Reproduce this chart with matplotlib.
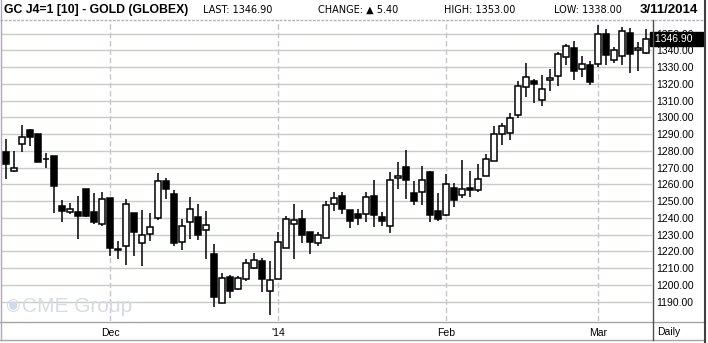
import numpy as np
import pandas as pd
import matplotlib
matplotlib.use("Agg")
import matplotlib.pyplot as plt
from matplotlib.lines import Line2D

# Daily gold futures (GC J4), 12 Nov 2013 - 11 Mar 2014
holidays = ["2013-11-28", "2013-12-25", "2014-01-01", "2014-01-20", "2014-02-17"]
dates = pd.bdate_range("2013-11-12", "2014-03-11", freq="C", holidays=holidays)

opens = [1279, 1268, 1284, 1292.5, 1290, 1275.3, 1277, 1247, 1243.3, 1243.5,
         1257.3, 1243.5, 1236.2, 1252, 1221.2, 1223, 1242.7, 1225, 1230.2, 1239.8,
         1262, 1254, 1225.6, 1237.4, 1240.4, 1232.6, 1218.5, 1189, 1204.6, 1197.5,
         1203.5, 1209.8, 1214.2, 1196.2, 1203.5, 1222, 1236.2, 1239.4, 1231.5, 1225,
         1227.7, 1248.1, 1252.9, 1244.6, 1242.2, 1242.2, 1252.9, 1240.4, 1235, 1263.6,
         1270.2, 1254.7, 1255.5, 1267.2, 1244.2, 1241.6, 1257.7, 1253.5, 1257.9, 1256.5,
         1265, 1273.8, 1289.8, 1290.4, 1301.6, 1318.1, 1321.7, 1310.4, 1322.2, 1324.6,
         1335.8, 1341.1, 1328.7, 1331.1, 1331.7, 1350, 1334.1, 1336.4, 1350.6, 1340,
         1338.6]
highs = [1287, 1280, 1295.5, 1293, 1290, 1278.5, 1277, 1250.7, 1248.7, 1253,
         1257.3, 1255, 1255.3, 1252, 1226.2, 1251.3, 1242.7, 1244.7, 1243, 1267,
         1263.6, 1256.7, 1239.4, 1252.3, 1248, 1244, 1224.5, 1207.2, 1205.6, 1205.5,
         1215.4, 1219, 1215.8, 1214.4, 1231.7, 1240.8, 1248.3, 1244.8, 1231.5, 1231.5,
         1250, 1255.7, 1255.7, 1244.6, 1245.2, 1255.7, 1262.6, 1243.4, 1267.2, 1273.1,
         1280.5, 1262, 1271, 1268, 1254.9, 1266.2, 1261, 1274.5, 1268.1, 1272.2,
         1278, 1294.7, 1296.7, 1302.8, 1321.7, 1332.5, 1323, 1325.4, 1329, 1339,
         1343.5, 1345.5, 1336.6, 1333.7, 1355, 1352.6, 1342, 1353.7, 1353.3, 1344.7,
         1353]
lows = [1263, 1267.5, 1279.5, 1283, 1273.5, 1270, 1243, 1237.8, 1242, 1227.6,
        1240.4, 1236.6, 1235.4, 1217.5, 1215.7, 1212, 1217, 1211, 1226.4, 1238.4,
        1251.3, 1223, 1221, 1227.6, 1227, 1215.7, 1186.7, 1189, 1192.4, 1196.7,
        1202, 1209.2, 1195.6, 1182, 1203.5, 1222, 1215.4, 1225, 1218.2, 1223,
        1227.7, 1243.8, 1242.2, 1233.7, 1236, 1237.8, 1234.8, 1235.4, 1231, 1257.1,
        1251.5, 1247.7, 1247.9, 1237.4, 1238, 1240.8, 1246.7, 1252, 1252.4, 1255.3,
        1265, 1273.8, 1283.7, 1286.2, 1299.6, 1312, 1308.5, 1306.7, 1315.6, 1318.7,
        1331, 1322, 1323.8, 1319, 1330, 1331, 1332.3, 1331, 1326.4, 1327.4,
        1338]
closes = [1272, 1270, 1288, 1288.5, 1273.5, 1275, 1259, 1244.3, 1245.3, 1241.3,
          1241.2, 1237.8, 1251.1, 1222, 1220.8, 1248, 1231.8, 1229.6, 1234.4, 1262,
          1257, 1224.7, 1235, 1245.1, 1230, 1235.6, 1193, 1204, 1196.6, 1204.1,
          1213, 1214.8, 1203.3, 1202.9, 1225.5, 1239.4, 1238.8, 1229.5, 1225.5, 1229.7,
          1247.5, 1251.7, 1245.2, 1238, 1239.6, 1252.3, 1241.4, 1238, 1262.4, 1264.8,
          1262.8, 1249.9, 1262.4, 1241.6, 1239.2, 1260, 1250.5, 1257.1, 1256.5, 1263,
          1275, 1289.8, 1294.9, 1299.8, 1318.7, 1324, 1320, 1316.9, 1323.4, 1337.6,
          1342.3, 1327.4, 1331.7, 1321.1, 1350, 1337, 1340, 1351.8, 1337.6, 1341.5,
          1346.9]

y_ticks = np.arange(1190, 1351, 10)
month_names = ["Dec", "'14", "Feb", "Mar"]
last_price = 1346.90

plt.rcParams['font.family'] = ['Liberation Sans', 'DejaVu Sans']

W, H = 708, 343
fig = plt.figure(figsize=(W / 100, H / 100), dpi=100)
ax = fig.add_axes([2 / W, 22 / H, 650 / W, 301 / H])

o = np.array(opens)
c = np.array(closes)
x = np.arange(len(dates))
down = c < o

# wicks then bodies
ax.vlines(x, lows, highs, color="black", linewidth=1.1, zorder=3)
ax.bar(x, np.abs(c - o), bottom=np.minimum(o, c), width=0.64,
       color=np.where(down, "black", "white"), edgecolor="black",
       linewidth=1.1, zorder=4)

ax.set_xlim(-0.5, 80.75)
ax.set_ylim(1178.4, 1358.1)

# month starts
month_pos = [i for i in range(1, len(dates)) if dates[i].month != dates[i - 1].month]
ax.set_xticks(month_pos)
ax.set_xticklabels(month_names)
ax.set_yticks(y_ticks)
ax.set_yticklabels([f"{v:.2f}" for v in y_ticks])
ax.yaxis.tick_right()
ax.tick_params(axis="y", length=0, pad=3, labelsize=7.5, colors="black")
ax.tick_params(axis="x", length=0, pad=5, labelsize=7.5, colors="black")

for v in y_ticks:
    ax.axhline(v, color="#c5cdc5", linewidth=1.0, zorder=1)
for p in month_pos:
    ax.axvline(p, color="#cbc3cb", linewidth=1.0, linestyle=(0, (4, 2)), zorder=1)
for s in ax.spines.values():
    s.set_visible(False)

# last price marker on the price scale (covers most of the 1350 label)
ax.text(1.0, last_price, " 1346.90   ", transform=ax.get_yaxis_transform(),
        ha="left", va="center", fontsize=7.5, color="white", clip_on=False,
        zorder=10, bbox=dict(boxstyle="square,pad=0.2", fc="black", ec="black"))

# faint logo
fig.text(5 / W, 1 - 306 / H, "\u25c9", fontsize=12, color="#d3d9e8", va="center")
fig.text(22 / W, 1 - 306 / H, "CME Group", fontsize=15, color="#d8dbe4", va="center")

# header
hy = 1 - 10 / H
fig.text(4 / W, hy, "GC J4=1 [10] - GOLD (GLOBEX)", fontsize=8.8, fontweight="bold", va="center")
fig.text(203 / W, hy, "LAST: 1346.90", fontsize=7, family="DejaVu Sans", va="center")
fig.text(318 / W, hy, "CHANGE: \u25b2 5.40", fontsize=7, family="DejaVu Sans", va="center")
fig.text(444 / W, hy, "HIGH: 1353.00", fontsize=7, family="DejaVu Sans", va="center")
fig.text(554 / W, hy, "LOW: 1338.00", fontsize=7, family="DejaVu Sans", va="center")
fig.text(698 / W, hy, "3/11/2014", fontsize=9.5, fontweight="bold", ha="right", va="center")
fig.text(669 / W, 1 - 332 / H, "Daily", fontsize=7.5, ha="center", va="center")

# frame lines
def fline(x0, y0, x1, y1, color, lw=1.0, ls="-"):
    fig.add_artist(Line2D([x0 / W, x1 / W], [1 - y0 / H, 1 - y1 / H],
                          color=color, linewidth=lw, linestyle=ls))

fline(0, 19.5, 705, 19.5, "#b9aec0", ls=(0, (2, 1)))
fline(0, 321.5, 705, 321.5, "#a8a0aa")
fline(0, 339.5, 705, 339.5, "#a8a0aa")
fline(652.5, 20, 652.5, 340, "#505050")
fline(1, 0, 1, 340, "#b0a8b4")
fline(704.5, 0, 704.5, 343, "#404040", lw=1.5)

fig.savefig("out.png", dpi=100, facecolor="white")
